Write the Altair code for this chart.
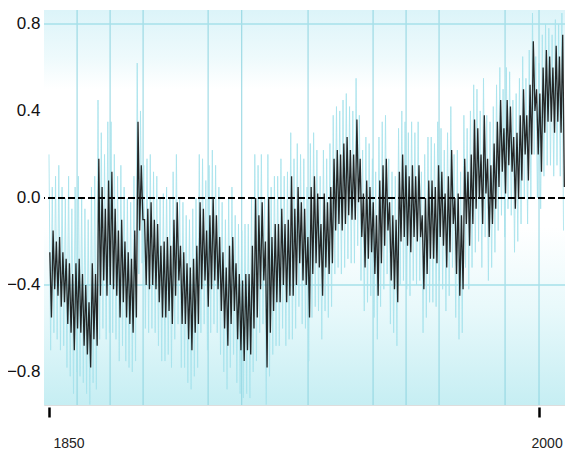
import altair as alt
import pandas as pd

# ---------------- data ----------------
years = list(range(1850, 2008))

black_hi = [
    -0.25, -0.15, -0.20, -0.18, -0.25, -0.28, -0.30, -0.35, -0.30, -0.28,   # 1850s
    -0.35, -0.40, -0.48, -0.30, -0.35, 0.18, 0.05, -0.05, 0.08, 0.12,       # 1860s
    -0.05, -0.15, -0.10, -0.20, -0.25, -0.28, -0.15, 0.35, 0.15, -0.10,     # 1870s
    -0.05, -0.02, -0.10, -0.12, -0.22, -0.20, -0.18, -0.22, -0.10, -0.02,   # 1880s
    -0.22, -0.25, -0.30, -0.32, -0.28, -0.22, -0.02, -0.05, -0.15, -0.08,   # 1890s
    0.00, -0.08, -0.18, -0.25, -0.32, -0.22, -0.18, -0.30, -0.35, -0.38,    # 1900s
    -0.35, -0.35, -0.22, 0.00, -0.08, -0.02, -0.20, 0.00, -0.18, -0.12,     # 1910s
    -0.12, -0.05, -0.12, -0.10, 0.10, -0.05, 0.05, -0.02, -0.05, -0.18,     # 1920s
    0.05, 0.10, 0.02, -0.12, 0.02, -0.02, 0.05, 0.18, 0.22, 0.20,           # 1930s
    0.25, 0.28, 0.22, 0.20, 0.36, 0.18, 0.02, 0.08, 0.05, -0.02,            # 1940s
    -0.08, 0.08, 0.15, 0.18, -0.02, -0.08, -0.10, 0.12, 0.20, 0.15,         # 1950s
    0.10, 0.15, 0.10, 0.15, -0.08, 0.00, 0.08, 0.08, 0.05, 0.15,            # 1960s
    0.12, 0.02, 0.10, 0.22, 0.00, 0.02, -0.08, 0.18, 0.12, 0.20,            # 1970s
    0.36, 0.32, 0.20, 0.38, 0.18, 0.15, 0.25, 0.35, 0.45, 0.32,             # 1980s
    0.45, 0.42, 0.28, 0.30, 0.38, 0.50, 0.38, 0.52, 0.72, 0.50,             # 1990s
    0.48, 0.60, 0.68, 0.65, 0.60, 0.70, 0.65, 0.75,                         # 2000s
]
black_lo = [
    -0.55, -0.42, -0.45, -0.50, -0.48, -0.58, -0.62, -0.70, -0.60, -0.62,
    -0.68, -0.72, -0.78, -0.65, -0.68, -0.45, -0.38, -0.45, -0.40, -0.42,
    -0.45, -0.55, -0.48, -0.55, -0.58, -0.62, -0.55, -0.15, -0.10, -0.40,
    -0.42, -0.40, -0.42, -0.48, -0.55, -0.55, -0.52, -0.58, -0.45, -0.38,
    -0.58, -0.58, -0.65, -0.70, -0.62, -0.58, -0.42, -0.38, -0.50, -0.42,
    -0.38, -0.42, -0.52, -0.60, -0.68, -0.58, -0.52, -0.65, -0.70, -0.75,
    -0.70, -0.72, -0.60, -0.55, -0.42, -0.38, -0.78, -0.62, -0.52, -0.48,
    -0.48, -0.40, -0.48, -0.45, -0.45, -0.40, -0.30, -0.38, -0.40, -0.55,
    -0.35, -0.30, -0.32, -0.45, -0.32, -0.35, -0.30, -0.15, -0.12, -0.15,
    -0.12, -0.08, -0.10, -0.10, -0.02, -0.18, -0.32, -0.28, -0.25, -0.35,
    -0.45, -0.30, -0.22, -0.15, -0.38, -0.42, -0.48, -0.20, -0.18, -0.22,
    -0.25, -0.18, -0.20, -0.18, -0.42, -0.35, -0.28, -0.28, -0.30, -0.18,
    -0.22, -0.32, -0.25, -0.12, -0.35, -0.45, -0.42, -0.12, -0.22, -0.12,
    -0.05, 0.00, -0.12, 0.02, -0.18, -0.12, -0.05, 0.05, 0.12, 0.02,
    0.15, 0.12, -0.05, 0.00, 0.08, 0.20, 0.08, 0.20, 0.40, 0.20,
    0.12, 0.30, 0.35, 0.35, 0.30, 0.35, 0.30, 0.05,
]
cyan_hi = [
    0.20, 0.05, 0.10, 0.15, 0.05, 0.00, 0.10, -0.05, 0.05, 0.10,
    0.00, -0.05, -0.10, 0.05, 0.10, 0.45, 0.30, 0.20, 0.35, 0.35,
    0.20, 0.10, 0.15, 0.05, 0.00, -0.02, 0.10, 0.62, 0.40, 0.15,
    0.18, 0.20, 0.12, 0.10, 0.00, 0.02, 0.05, 0.00, 0.12, 0.20,
    0.00, -0.02, -0.08, -0.10, -0.05, 0.00, 0.20, 0.18, 0.08, 0.15,
    0.22, 0.15, 0.05, -0.02, -0.10, 0.00, 0.05, -0.08, -0.12, -0.15,
    -0.12, -0.12, 0.00, 0.20, 0.15, 0.20, 0.00, 0.20, 0.05, 0.10,
    0.10, 0.18, 0.10, 0.12, 0.30, 0.18, 0.25, 0.20, 0.18, 0.05,
    0.25, 0.30, 0.22, 0.10, 0.22, 0.18, 0.25, 0.38, 0.42, 0.40,
    0.45, 0.48, 0.42, 0.40, 0.55, 0.38, 0.22, 0.28, 0.25, 0.18,
    0.12, 0.28, 0.35, 0.38, 0.18, 0.12, 0.10, 0.32, 0.40, 0.35,
    0.30, 0.35, 0.30, 0.35, 0.12, 0.20, 0.28, 0.28, 0.25, 0.35,
    0.32, 0.22, 0.30, 0.42, 0.20, 0.22, 0.12, 0.38, 0.32, 0.40,
    0.52, 0.50, 0.40, 0.55, 0.38, 0.35, 0.42, 0.52, 0.60, 0.50,
    0.60, 0.58, 0.45, 0.48, 0.55, 0.65, 0.55, 0.68, 0.85, 0.65,
    0.62, 0.75, 0.80, 0.78, 0.75, 0.82, 0.80, 0.85,
]
cyan_lo = [
    -0.70, -0.62, -0.65, -0.70, -0.68, -0.78, -0.82, -0.90, -0.80, -0.82,
    -0.85, -0.90, -0.95, -0.85, -0.88, -0.65, -0.60, -0.65, -0.62, -0.62,
    -0.65, -0.75, -0.68, -0.75, -0.78, -0.80, -0.75, -0.35, -0.30, -0.60,
    -0.62, -0.60, -0.62, -0.68, -0.75, -0.75, -0.72, -0.78, -0.65, -0.58,
    -0.78, -0.78, -0.85, -0.88, -0.82, -0.78, -0.62, -0.58, -0.70, -0.62,
    -0.58, -0.62, -0.72, -0.80, -0.88, -0.78, -0.72, -0.85, -0.90, -0.92,
    -0.90, -0.92, -0.80, -0.75, -0.62, -0.58, -0.95, -0.82, -0.72, -0.68,
    -0.68, -0.60, -0.68, -0.65, -0.65, -0.60, -0.50, -0.58, -0.60, -0.75,
    -0.55, -0.50, -0.52, -0.65, -0.52, -0.55, -0.50, -0.35, -0.32, -0.35,
    -0.32, -0.28, -0.30, -0.30, -0.22, -0.38, -0.52, -0.48, -0.45, -0.55,
    -0.65, -0.50, -0.42, -0.35, -0.58, -0.62, -0.68, -0.40, -0.38, -0.42,
    -0.45, -0.38, -0.40, -0.38, -0.62, -0.55, -0.48, -0.48, -0.50, -0.38,
    -0.42, -0.52, -0.45, -0.32, -0.55, -0.65, -0.62, -0.32, -0.42, -0.32,
    -0.25, -0.20, -0.32, -0.18, -0.38, -0.32, -0.25, -0.15, -0.08, -0.18,
    -0.05, -0.08, -0.25, -0.20, -0.12, 0.00, -0.12, 0.00, 0.20, 0.00,
    -0.05, 0.10, 0.15, 0.15, 0.10, 0.15, 0.10, -0.15,
]

grid_years = [1858.6, 1868.7, 1878.8, 1898.7, 1909.0, 1929.3, 1949.2,
              1959.3, 1969.4, 1989.6, 2000.0]
grid_values = [0.8, -0.4]
y_ticks = [-0.8, -0.4, 0.0, 0.4, 0.8]
x_ticks = [1850, 2000]

# ---------------- tables ----------------
black_rows = []
cyan_rows = []
for i, yr in enumerate(years):
    black_rows.append({"t": yr + 0.25, "v": black_hi[i]})
    black_rows.append({"t": yr + 0.75, "v": black_lo[i]})
    cyan_rows.append({"t": yr + 0.0, "v": cyan_hi[i]})
    cyan_rows.append({"t": yr + 0.5, "v": cyan_lo[i]})
black_df = pd.DataFrame(black_rows)
cyan_df = pd.DataFrame(cyan_rows)
vgrid_df = pd.DataFrame({"t": grid_years})
hgrid_df = pd.DataFrame({"v": grid_values})
zero_df = pd.DataFrame({"v": [0.0]})

W, H = 521, 395
xs = alt.Scale(domain=[1848.47, 2007.95], nice=False, zero=False)
ys = alt.Scale(domain=[-0.952, 0.864], nice=False, zero=False)

x_axis = alt.Axis(
    values=x_ticks, title=None, grid=False, domain=False,
    ticks=True, tickColor="#000000", tickWidth=2.5, tickSize=10,
    offset=2, labelPadding=19, labelAlign="left",
    labelOffset={"condition": {"test": "datum.value == 2000", "value": -8}, "value": 4},
    labelFont="Liberation Sans", labelFontSize=14, labelColor="#222222",
    format="d",
)
y_axis = alt.Axis(
    values=y_ticks, title=None, grid=False, domain=False, ticks=False,
    labelPadding=4, format=".1f",
    labelFont="Liberation Sans", labelFontSize=17, labelColor="#111111",
)

X = alt.X("t:Q", scale=xs, axis=x_axis)
Y = alt.Y("v:Q", scale=ys, axis=y_axis)

bg = alt.Chart(alt.Data(values=[{}])).mark_rect(
    color={
        "gradient": "linear", "x1": 0, "y1": 0, "x2": 0, "y2": 1,
        "stops": [
            {"offset": 0.0, "color": "#dcf4f9"},
            {"offset": 0.12, "color": "#eefafc"},
            {"offset": 0.2, "color": "#ffffff"},
            {"offset": 0.55, "color": "#ffffff"},
            {"offset": 0.75, "color": "#e9f9fb"},
            {"offset": 1.0, "color": "#c6eef3"},
        ],
    }
).encode(x=alt.value(0), x2=alt.value(W), y=alt.value(0), y2=alt.value(H))

vgrid = alt.Chart(vgrid_df).mark_rule(color="#8ed4e0", strokeWidth=1).encode(x=X)
hgrid = alt.Chart(hgrid_df).mark_rule(color="#a6e1ea", strokeWidth=1.5).encode(y=Y)

cyan = alt.Chart(cyan_df).mark_line(color="#a8e3ec", strokeWidth=1, opacity=0.85).encode(x=X, y=Y)

zero = alt.Chart(zero_df).mark_rule(color="#000000", strokeWidth=2, strokeDash=[7, 3]).encode(y=Y)

black = alt.Chart(black_df).mark_line(color="#111111", strokeWidth=1.3, opacity=0.9).encode(x=X, y=Y)

chart = alt.layer(bg, vgrid, hgrid, cyan, zero, black).properties(
    width=W, height=H,
    autosize=alt.AutoSizeParams(type="none"),
    padding={"left": 36, "top": 2, "right": 0, "bottom": 48},
).configure_view(stroke=None).configure(background="#ffffff")

chart.save("out.html", embed_options={"renderer": "svg", "actions": False})
